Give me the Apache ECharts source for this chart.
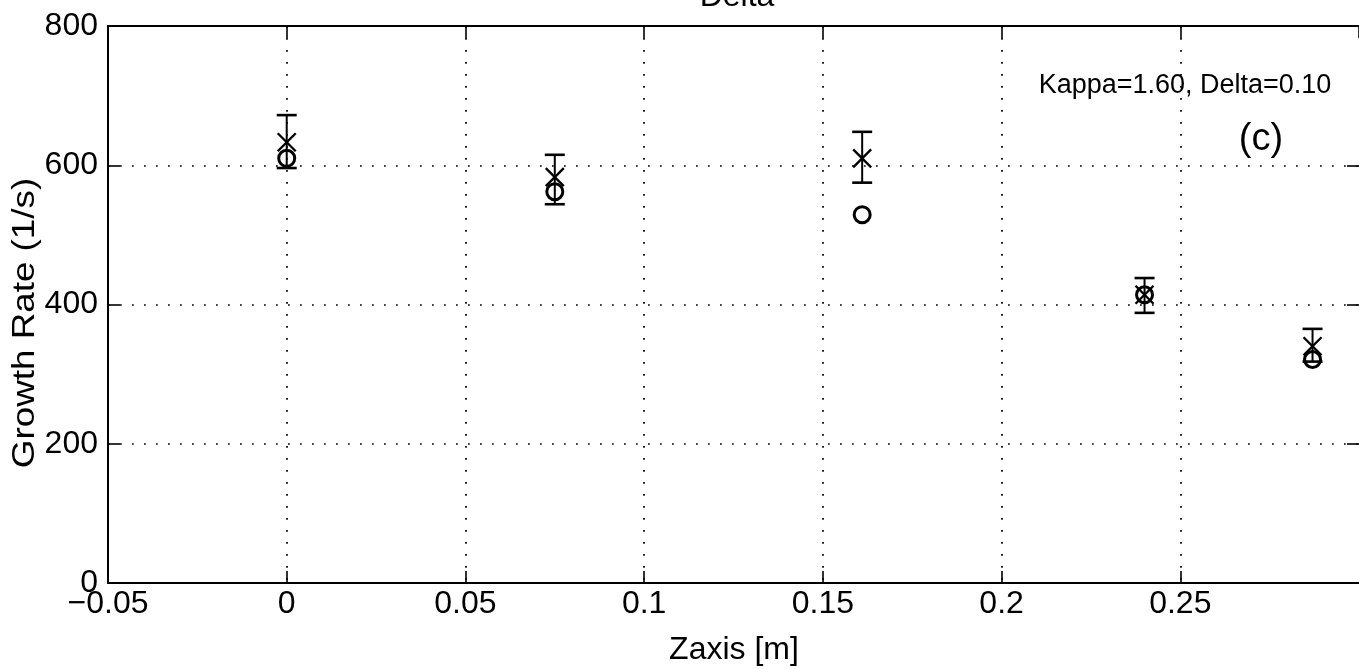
<!DOCTYPE html>
<html>
<head>
<meta charset="utf-8">
<script src="https://cdn.jsdelivr.net/npm/echarts@6/dist/echarts.min.js"></script>
<style>
html,body{margin:0;padding:0;background:#fff;}
#chart{width:1359px;height:669px;}
</style>
</head>
<body>
<div id="chart"></div>
<script>
// Data
const zPos      = [0.000, 0.075, 0.161, 0.240, 0.287];   // Zaxis [m]
const rateX     = [633, 583, 610, 414, 340];             // "x" markers (1/s)
const errLow    = [596, 544, 575, 388, 318];             // error bar bottom
const errHigh   = [672, 615, 648, 438, 365];             // error bar top
const rateO     = [610, 562, 529, 414, 321];             // "o" markers (1/s)
const titleText = 'Delta';
const noteText  = 'Kappa=1.60, Delta=0.10';
const panelText = '(c)';

const FONT = '"Liberation Sans", Arial, Helvetica, sans-serif';
const chart = echarts.init(document.getElementById('chart'));

function fmtX(v) {
  const r = parseFloat(v.toFixed(3));
  if (r >= 0.3 - 1e-9) return '';
  return (r < 0 ? '\u2212' : '') + String(Math.abs(r));
}

const dotStyle = {color: '#000', width: 1.7, type: [1.7, 10.3]};
const axisLine = {show: true, onZero: false, lineStyle: {color: '#000', width: 2}};
const tick = {show: true, inside: true, length: 12, lineStyle: {color: '#000', width: 1.6}};

chart.setOption({
  animation: false,
  backgroundColor: '#fff',
  grid: {left: 108, right: 0, top: 26, bottom: 86, containLabel: false},
  xAxis: [{
    type: 'value', min: -0.05, max: 0.3, interval: 0.05, position: 'bottom',
    axisLine: axisLine, axisTick: tick,
    splitLine: {show: true, showMinLine: false, showMaxLine: false, lineStyle: dotStyle},
    axisLabel: {fontSize: 32, color: '#000', fontFamily: FONT, margin: 5, formatter: fmtX, showMaxLabel: false}
  }, {
    type: 'value', min: -0.05, max: 0.3, interval: 0.05, position: 'top',
    axisLine: axisLine, axisTick: tick, splitLine: {show: false}, axisLabel: {show: false}
  }],
  yAxis: [{
    type: 'value', min: 0, max: 800, interval: 200, position: 'left',
    axisLine: axisLine, axisTick: tick,
    splitLine: {show: true, showMinLine: false, showMaxLine: false, lineStyle: dotStyle},
    axisLabel: {fontSize: 32, color: '#000', fontFamily: FONT, margin: 10}
  }, {
    type: 'value', min: 0, max: 800, interval: 200, position: 'right',
    axisLine: {show: false, onZero: false}, axisTick: tick, splitLine: {show: false}, axisLabel: {show: false}
  }],
  series: [{
    type: 'scatter', name: 'o', xAxisIndex: 0, yAxisIndex: 0,
    data: zPos.map((z, i) => [z, rateO[i]]),
    symbol: 'circle', symbolSize: 16,
    itemStyle: {color: 'rgba(0,0,0,0)', borderColor: '#000', borderWidth: 3, opacity: 1},
    z: 3
  }, {
    type: 'custom', name: 'errorbar', xAxisIndex: 0, yAxisIndex: 0,
    data: zPos.map((z, i) => [z, errLow[i], errHigh[i]]),
    encode: {x: 0, y: [1, 2]},
    renderItem: function (params, api) {
      const x = api.value(0);
      const lo = api.coord([x, api.value(1)]);
      const hi = api.coord([x, api.value(2)]);
      const hw = 10;
      const st = {stroke: '#000', lineWidth: 2};
      const cap = {stroke: '#000', lineWidth: 2.6};
      return {type: 'group', children: [
        {type: 'line', shape: {x1: lo[0], y1: lo[1], x2: hi[0], y2: hi[1]}, style: st},
        {type: 'line', shape: {x1: hi[0] - hw, y1: hi[1], x2: hi[0] + hw, y2: hi[1]}, style: cap},
        {type: 'line', shape: {x1: lo[0] - hw, y1: lo[1], x2: lo[0] + hw, y2: lo[1]}, style: cap}
      ]};
    },
    z: 4
  }, {
    type: 'custom', name: 'x', xAxisIndex: 0, yAxisIndex: 0,
    data: zPos.map((z, i) => [z, rateX[i]]),
    encode: {x: 0, y: 1},
    renderItem: function (params, api) {
      const p = api.coord([api.value(0), api.value(1)]);
      const h = 9;
      const st = {stroke: '#000', lineWidth: 2.4};
      return {type: 'group', children: [
        {type: 'line', shape: {x1: p[0] - h, y1: p[1] - h, x2: p[0] + h, y2: p[1] + h}, style: st},
        {type: 'line', shape: {x1: p[0] - h, y1: p[1] + h, x2: p[0] + h, y2: p[1] - h}, style: st}
      ]};
    },
    z: 5
  }],
  graphic: [
    {type: 'text', x: 737, y: 13, style: {text: titleText, font: '32px ' + FONT, fill: '#000', textAlign: 'center', textVerticalAlign: 'bottom'}},
    {type: 'text', x: 734, y: 650, style: {text: 'Zaxis [m]', font: '32px ' + FONT, fill: '#000', textAlign: 'center', textVerticalAlign: 'middle'}},
    {type: 'text', x: 25, y: 323, rotation: Math.PI / 2, scaleX: 1.15,
      style: {text: 'Growth Rate (1/s)', font: '32px ' + FONT, fill: '#000', textAlign: 'center', textVerticalAlign: 'middle'}},
    {type: 'text', x: 1185, y: 86, style: {text: noteText, font: '27px ' + FONT, fill: '#000', textAlign: 'center', textVerticalAlign: 'middle'}},
    {type: 'text', x: 1261, y: 140, style: {text: panelText, font: '38px ' + FONT, fill: '#000', textAlign: 'center', textVerticalAlign: 'middle'}}
  ]
});
</script>
</body>
</html>
